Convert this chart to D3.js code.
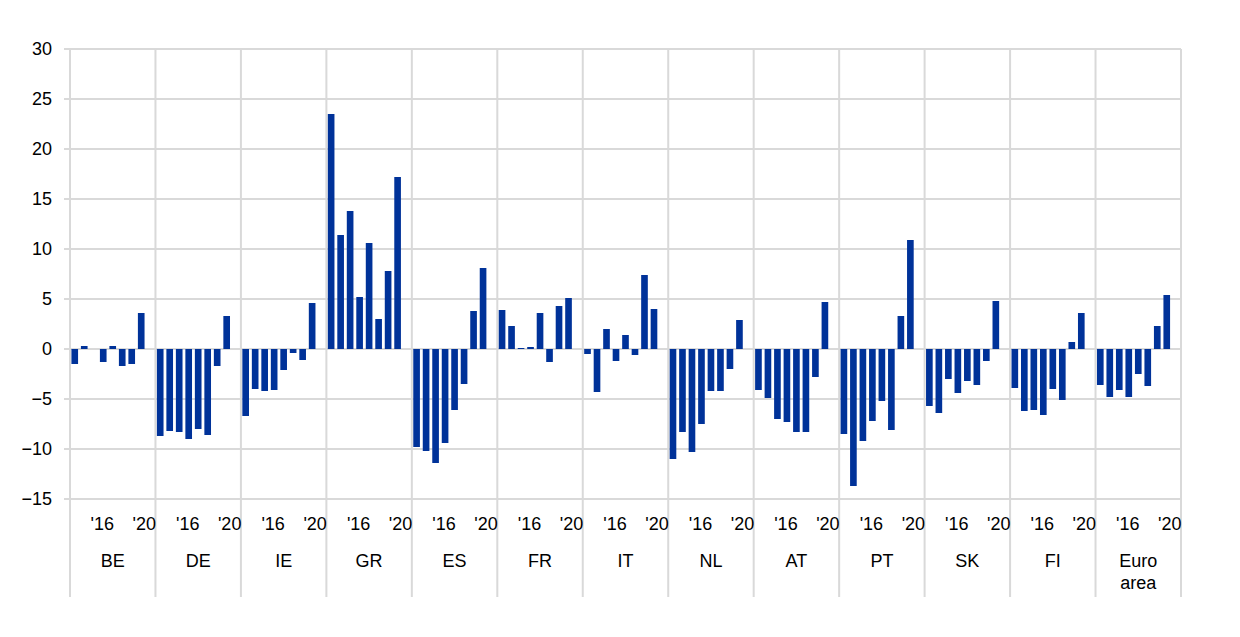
<!DOCTYPE html>
<html>
<head>
<meta charset="utf-8">
<script src="https://cdn.jsdelivr.net/npm/d3@7"></script>
<style>
  html, body { margin: 0; padding: 0; background: #fff; }
  text { font-family: "Liberation Sans", Arial, sans-serif; fill: #000; }
</style>
</head>
<body>
<svg id="chart" width="1240" height="637"></svg>
<script>
// Countries (groups) and years (bars within each group)
const countries = ["BE", "DE", "IE", "GR", "ES", "FR", "IT", "NL", "AT", "PT", "SK", "FI", "Euro area"];
const years = [2013, 2014, 2015, 2016, 2017, 2018, 2019, 2020];
const yearTickLabels = { 2016: "'16", 2020: "'20" };
const yTicks = [-15, -10, -5, 0, 5, 10, 15, 20, 25, 30];

// Values per country, one per year (2013-2020)
const BE = [-1.5, 0.3, 0.0, -1.3, 0.3, -1.7, -1.5, 3.6];
const DE = [-8.7, -8.2, -8.3, -9.0, -8.0, -8.6, -1.7, 3.3];
const IE = [-6.7, -4.0, -4.2, -4.1, -2.1, -0.4, -1.1, 4.6];
const GR = [23.5, 11.4, 13.8, 5.2, 10.6, 3.0, 7.8, 17.2];
const ES = [-9.8, -10.2, -11.4, -9.4, -6.1, -3.5, 3.8, 8.1];
const FR = [3.9, 2.3, 0.1, 0.2, 3.6, -1.3, 4.3, 5.1];
const IT = [-0.5, -4.3, 2.0, -1.2, 1.4, -0.6, 7.4, 4.0];
const NL = [-11.0, -8.3, -10.3, -7.5, -4.2, -4.2, -2.0, 2.9];
const AT = [-4.1, -4.9, -7.0, -7.3, -8.3, -8.3, -2.8, 4.7];
const PT = [-8.5, -13.7, -9.2, -7.2, -5.2, -8.1, 3.3, 10.9];
const SK = [-5.7, -6.4, -3.0, -4.4, -3.2, -3.6, -1.2, 4.8];
const FI = [-3.9, -6.2, -6.1, -6.6, -4.0, -5.1, 0.7, 3.6];
const EA = [-3.6, -4.8, -4.1, -4.8, -2.5, -3.7, 2.3, 5.4];
const seriesValues = [BE, DE, IE, GR, ES, FR, IT, NL, AT, PT, SK, FI, EA];

(function () {
  const data = [];
  countries.forEach((c, ci) => {
    years.forEach((yr, yi) => data.push({ country: c, year: yr, value: seriesValues[ci][yi] }));
  });

  const svg = d3.select("#chart");
  const plotLeft = 70, plotRight = 1181, plotTop = 49, plotBottom = 499;
  const gridColor = "#d9d9d9";
  const barColor = "#003299";
  const fontSize = 18;

  const x0 = d3.scaleBand().domain(countries).range([plotLeft, plotRight]).paddingInner(0).paddingOuter(0);
  // 9 slots per group: 8 years + one empty slot at the end
  const slotDomain = years.concat(["gap"]);
  const x1 = d3.scaleBand().domain(slotDomain).range([0, x0.bandwidth()]).paddingInner(0.3).paddingOuter(0.15);
  const y = d3.scaleLinear().domain([-15, 30]).range([plotBottom, plotTop]);

  // Horizontal gridlines
  svg.append("g").selectAll("line").data(yTicks).join("line")
    .attr("x1", plotLeft - 6).attr("x2", plotRight)
    .attr("y1", d => y(d)).attr("y2", d => y(d))
    .attr("stroke", gridColor).attr("stroke-width", 2);

  // Vertical group separators
  const seps = countries.map(c => x0(c)).concat([plotRight]);
  svg.append("g").selectAll("line").data(seps).join("line")
    .attr("x1", d => d).attr("x2", d => d)
    .attr("y1", plotTop).attr("y2", 597)
    .attr("stroke", gridColor).attr("stroke-width", 2);

  // Y axis labels
  const yAxis = d3.axisLeft(y).tickValues(yTicks).tickSize(0).tickPadding(0).tickFormat(d3.format("d"));
  const ya = svg.append("g").attr("transform", `translate(${plotLeft - 18},0)`).call(yAxis);
  ya.select(".domain").remove();
  ya.selectAll("text").attr("font-size", fontSize).attr("font-family", "Liberation Sans, Arial, sans-serif").attr("fill", "#000");

  // Bars
  svg.append("g").selectAll("rect").data(data).join("rect")
    .attr("x", d => x0(d.country) + x1(d.year))
    .attr("width", x1.bandwidth())
    .attr("y", d => y(Math.max(0, d.value)))
    .attr("height", d => Math.abs(y(d.value) - y(0)))
    .attr("fill", barColor);

  // Year tick labels
  const tickData = [];
  countries.forEach(c => Object.keys(yearTickLabels).forEach(yr => tickData.push({ country: c, year: +yr, label: yearTickLabels[yr] })));
  svg.append("g").selectAll("text").data(tickData).join("text")
    .attr("x", d => x0(d.country) + x1(d.year) + x1.bandwidth() / 2 + (d.year === 2020 ? 3 : -1))
    .attr("y", 529.5)
    .attr("text-anchor", "middle")
    .attr("font-size", fontSize)
    .text(d => d.label);

  // Country labels
  const cl = svg.append("g").selectAll("text").data(countries).join("text")
    .attr("x", d => x0(d) + x0.bandwidth() / 2)
    .attr("y", 566.5)
    .attr("text-anchor", "middle")
    .attr("font-size", fontSize);
  cl.each(function (d) {
    const parts = d === "Euro area" ? ["Euro", "area"] : [d];
    const t = d3.select(this);
    parts.forEach((p, i) => {
      t.append("tspan").attr("x", x0(d) + x0.bandwidth() / 2).attr("dy", i === 0 ? 0 : 22.5).text(p);
    });
  });
})();
</script>
</body>
</html>
